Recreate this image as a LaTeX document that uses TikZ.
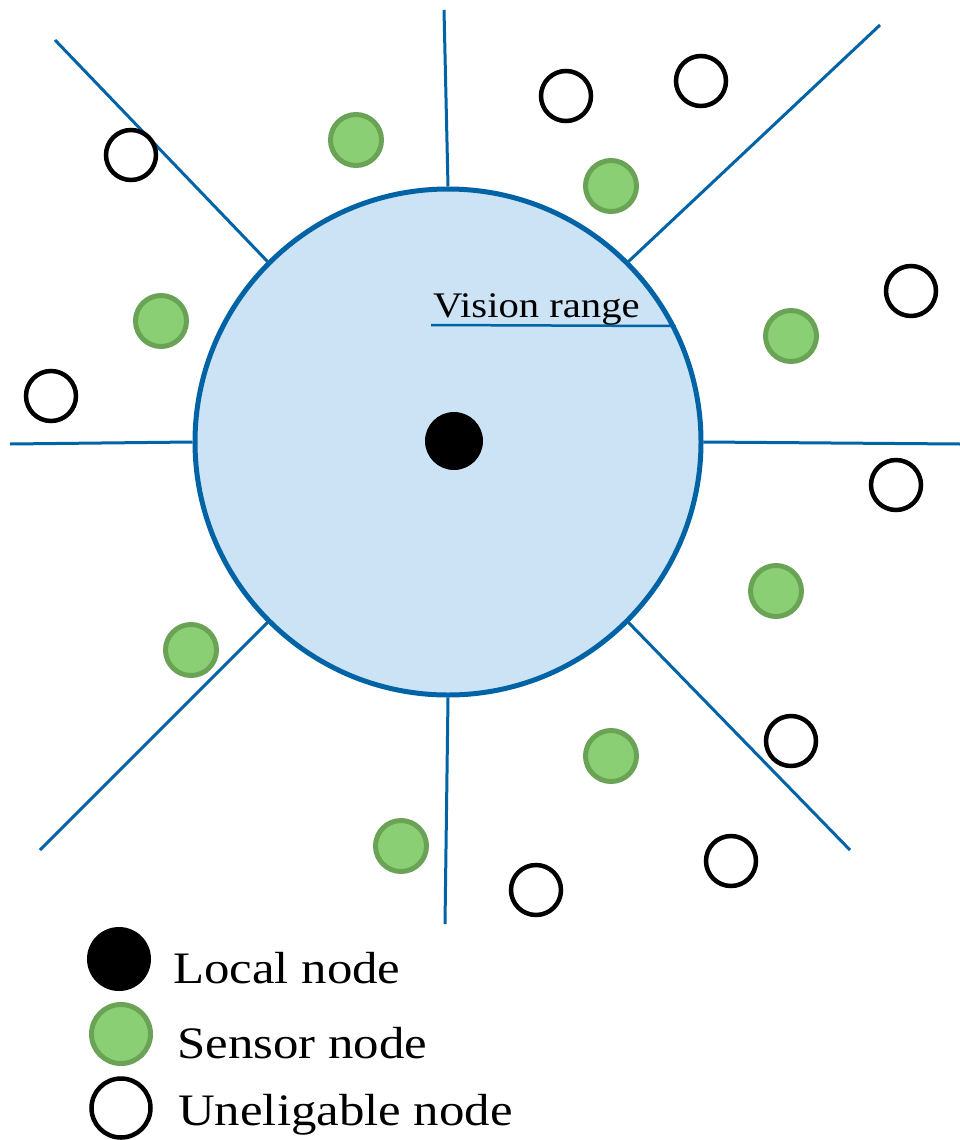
\documentclass[tikz,border=0pt]{standalone}
\usepackage{fontspec}
\setmainfont[FakeStretch=1.13]{Liberation Serif}
\definecolor{rangeblue}{RGB}{0,99,166}
\definecolor{rangefill}{RGB}{204,227,245}
\definecolor{sensorfill}{RGB}{139,207,116}
\definecolor{sensoredge}{RGB}{106,163,86}
\tikzset{
  spoke/.style={draw=rangeblue, line width=3pt},
  sensor/.style={circle, inner sep=0pt, minimum size=51pt, fill=sensorfill, draw=sensoredge, line width=5pt},
  idle/.style={circle, inner sep=0pt, minimum size=50pt, fill=white, draw=black, line width=4.5pt},
  localnode/.style={circle, inner sep=0pt, minimum size=58pt, fill=black},
  legendtext/.style={anchor=base west, inner sep=0pt, font=\fontsize{45}{48}\selectfont},
}
\begin{document}
\begin{tikzpicture}[x=1pt, y=-1pt]
\useasboundingbox (0,0) rectangle (960,1140);

% vision range disc
\node[circle, inner sep=0pt, minimum size=506pt, fill=rangefill, draw=rangeblue, line width=5pt] (main) at (448,442) {};

% spokes leaving the disc
\coordinate (eN)  at (444,10);
\coordinate (eS)  at (445,924);
\coordinate (eW)  at (10,444);
\coordinate (eE)  at (960,444);
\coordinate (eNW) at (55,40);
\coordinate (eNE) at (880,25);
\coordinate (eSW) at (40,850);
\coordinate (eSE) at (850,850);
\draw[spoke] (main.north) -- (eN);
\draw[spoke] (main.south) -- (eS);
\draw[spoke] (main.west) -- (eW);
\draw[spoke] (main.east) -- (eE);
\draw[spoke] (main.135) -- (eNW);
\draw[spoke] (main.45) -- (eNE);
\draw[spoke] (main.225) -- (eSW);
\draw[spoke] (main.315) -- (eSE);

% radius marker
\coordinate (rs) at (431,325);
\draw[rangeblue, line width=2.5pt] (rs) -- (main.27.8);
\node[anchor=base west, inner sep=0pt, font=\fontsize{36}{40}\selectfont] (vr) at (433,317) {Vision range};

% local node
\node[localnode] (loc) at (454,441) {};

% sensor nodes
\node[sensor] (s1) at (356,140) {};
\node[sensor] (s2) at (611,186) {};
\node[sensor] (s3) at (161,321) {};
\node[sensor] (s4) at (791,336) {};
\node[sensor] (s5) at (776,591) {};
\node[sensor] (s6) at (191,650) {};
\node[sensor] (s7) at (611,756) {};
\node[sensor] (s8) at (401,846) {};

% uneligable nodes
\node[idle] (u1) at (131,155) {};
\node[idle] (u2) at (566,96) {};
\node[idle] (u3) at (701,81) {};
\node[idle] (u4) at (911,291) {};
\node[idle] (u5) at (51,396) {};
\node[idle] (u6) at (896,485) {};
\node[idle] (u7) at (791,741) {};
\node[idle] (u8) at (731,861) {};
\node[idle] (u9) at (536,890) {};

% legend
\node[localnode, minimum size=64pt] (lg1) at (119,959) {};
\node[sensor, minimum size=59pt] (lg2) at (121,1034) {};
\node[idle, minimum size=59pt] (lg3) at (121,1108) {};
\node[legendtext] (lt1) at (173,983) {Local node};
\node[legendtext] (lt2) at (177,1058) {Sensor node};
\node[legendtext] (lt3) at (178,1125) {Uneligable node};
\end{tikzpicture}
\end{document}
